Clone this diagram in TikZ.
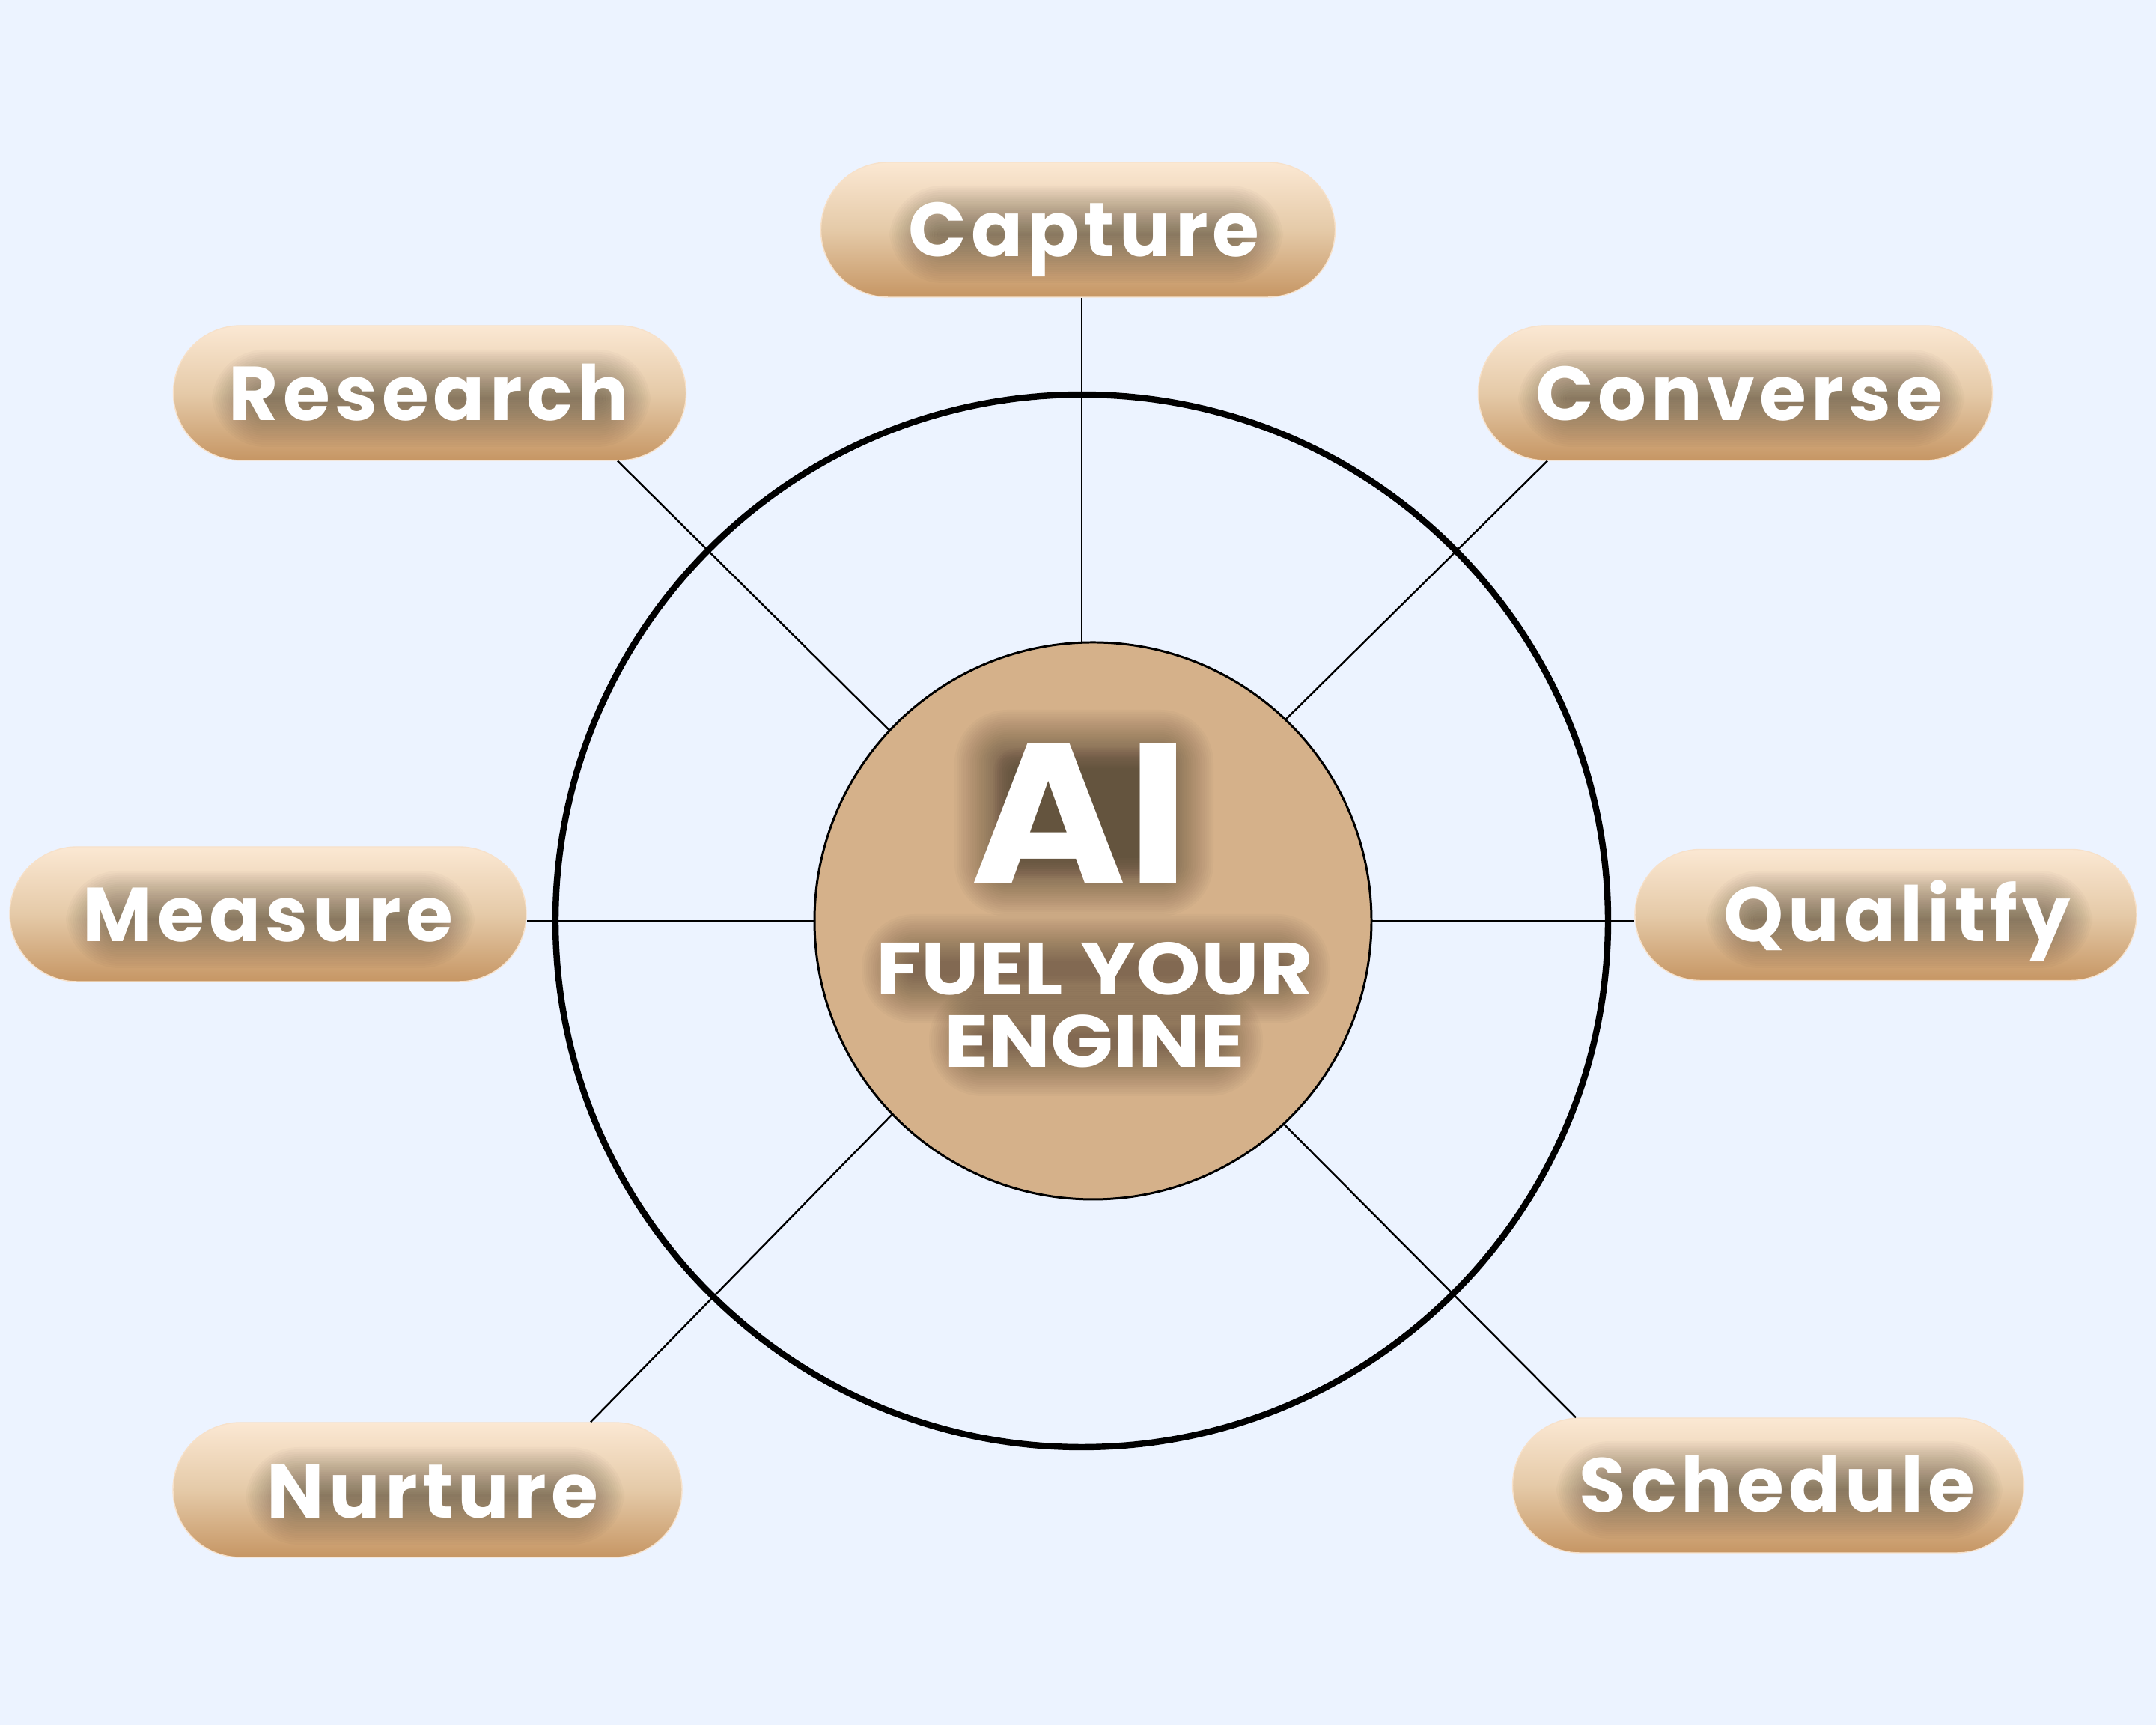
\documentclass[tikz,border=0pt]{standalone}
\usepackage{fontspec}
\usepackage{tikz}
\usetikzlibrary{calc}
\usetikzlibrary{shapes.misc}
\newfontfamily\pillfont[LetterSpace=6]{Poppins}
\newfontfamily\hubfont[FakeStretch=1.12]{Poppins}
\newfontfamily\aifont[FakeStretch=1.06]{Poppins}
\definecolor{pagecolor}{HTML}{ECF3FF}
\definecolor{pilltop}{HTML}{FBE8D3}
\definecolor{pillmid}{HTML}{E5CAA8}
\definecolor{pillbottom}{HTML}{C69664}
\definecolor{discfill}{HTML}{D5B18A}
\tikzset{
pill/.style={ % Sets the properties for each label pill
rounded rectangle,
minimum height=1.8cm,
inner sep=0pt,
top color=pilltop,
bottom color=pillbottom,
middle color=pillmid,
draw=pilltop!92!pillbottom,
line width=0.4pt},
pilltext/.style={ % White word on top of its glow
text=white,
font=\pillfont\bfseries\fontsize{29}{34}\selectfont,
anchor=base,
inner sep=0pt},
hubtext/.style={
pilltext,
font=\hubfont\bfseries\fontsize{28}{34}\selectfont},
aitext/.style={
pilltext,
font=\aifont\bfseries\fontsize{76}{80}\selectfont},
glowlayer/.style={
fill=black,
opacity=.02},
spoke/.style={
draw=black,
line width=.7pt}}
% Soft dark patch behind a word: [last layer], centre, half width, half height
\newcommand{\wordglow}[4][21]{
    \foreach \g in {0,...,#1}
      \fill[glowlayer, rounded corners={.08cm+\g*.03cm}]
        ($(#2)+({-#3-\g*.03},{-#4-\g*.03})$) rectangle ($(#2)+({#3+\g*.03},{#4+\g*.03})$);
}

\begin{document}
\begin{tikzpicture}
    \fill[pagecolor] (0,0) rectangle (28.8,23.04);
    \useasboundingbox (0,0) rectangle (28.8,23.04);
    \coordinate (hub) at (14.45,10.74);
    \node[pill, minimum width=6.87cm] (capture) at (14.40,19.97) {};
    \node[pill, minimum width=6.85cm] (research) at (5.74,17.79) {};
    \node[pill, minimum width=6.87cm] (converse) at (23.18,17.79) {};
    \node[pill, minimum width=6.90cm] (measure) at (3.58,10.83) {};
    \node[pill, minimum width=6.70cm, minimum height=1.75cm] (qualitfy) at (25.19,10.82) {};
    \node[pill, minimum width=6.80cm] (nurture) at (5.71,3.14) {};
    \node[pill, minimum width=6.83cm] (schedule) at (23.62,3.20) {};
    \draw[spoke] (hub) -- (hub |- capture.south);
    \draw[spoke] (hub) -- ($(research.south)+(2.51,0)$);
    \draw[spoke] (hub) -- ($(converse.south)+(-2.51,0)$);
    \draw[spoke] (hub) -- (hub -| measure.east);
    \draw[spoke] (hub) -- (hub -| qualitfy.west);
    \draw[spoke] (hub) -- ($(nurture.north)+(2.18,0)$);
    \draw[spoke] (hub) -- ($(schedule.north)+(-2.57,0)$);
    \node[circle, draw=black, line width=2.4pt, minimum size=14.06cm] (ring) at (hub) {};
    \node[circle, draw=black, fill=discfill, line width=.85pt, minimum size=7.44cm] (disc) at (14.60,10.74) {};
    \coordinate (capturemark) at (14.48,19.61);
    \coordinate (researchmark) at (5.73,17.42);
    \coordinate (conversemark) at (23.23,17.42);
    \coordinate (measuremark) at (3.58,10.46);
    \coordinate (qualitfymark) at (25.34,10.46);
    \coordinate (nurturemark) at (5.78,2.76);
    \coordinate (schedulemark) at (23.74,2.84);
    \coordinate (aimark) at (14.43,11.23);
    \coordinate (fuelmark) at (14.62,9.75);
    \coordinate (enginemark) at (14.62,8.78);
    \wordglow{$(capturemark)+(.03,.30)$}{2.0}{.02}
    \wordglow{$(researchmark)+(.03,.30)$}{2.3}{.02}
    \wordglow{$(conversemark)+(.03,.30)$}{2.35}{.02}
    \wordglow{$(measuremark)+(.03,.30)$}{2.1}{.02}
    \wordglow{$(qualitfymark)+(.03,.30)$}{1.95}{.02}
    \wordglow{$(nurturemark)+(.03,.30)$}{1.9}{.02}
    \wordglow{$(schedulemark)+(.03,.30)$}{2.35}{.02}
    \wordglow{$(aimark)+(.05,.95)$}{1.1}{.75}
    \wordglow[9]{$(aimark)+(.05,.95)$}{.95}{.6}
    \wordglow{$(fuelmark)+(.02,.35)$}{2.5}{.1}
    \wordglow{$(enginemark)+(.02,.35)$}{1.6}{.1}
    \node[pilltext] (capturetext) at (capturemark) {Capture};
    \node[pilltext] (researchtext) at (researchmark) {Research};
    \node[pilltext] (conversetext) at (conversemark) {Converse};
    \node[pilltext] (measuretext) at (measuremark) {Measure};
    \node[pilltext] (qualitfytext) at (qualitfymark) {Qualitfy};
    \node[pilltext] (nurturetext) at (nurturemark) {Nurture};
    \node[pilltext] (scheduletext) at (schedulemark) {Schedule};
    \node[aitext] (aitext) at (aimark) {AI};
    \node[hubtext] (fueltext) at (fuelmark) {FUEL YOUR};
    \node[hubtext] (enginetext) at (enginemark) {ENGINE};
\end{tikzpicture}
\end{document}
